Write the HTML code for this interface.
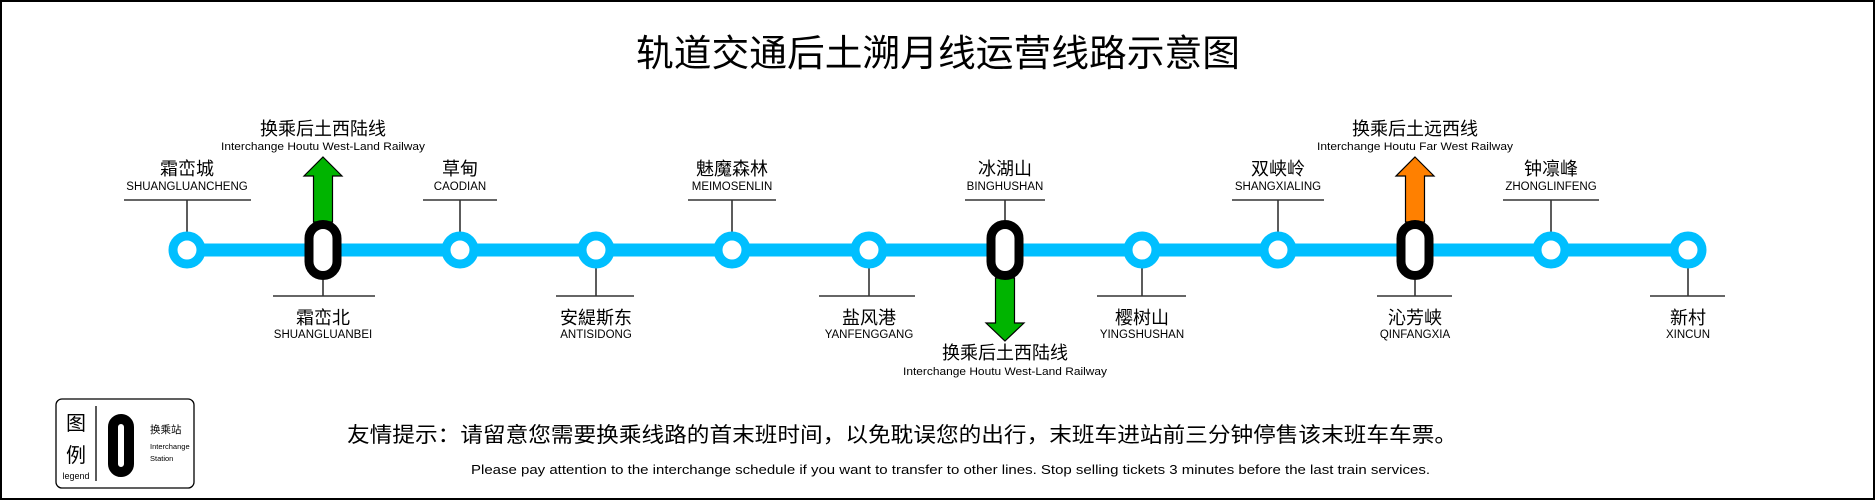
<!DOCTYPE html>
<html><head><meta charset="utf-8"><style>
html,body{margin:0;padding:0;background:#fff;}
svg{display:block;}
text{font-family:"Liberation Sans","Noto Sans CJK SC",sans-serif;fill:#000;}
</style></head><body>
<svg width="1875" height="500" viewBox="0 0 1875 500" xmlns="http://www.w3.org/2000/svg">
<rect x="1" y="1" width="1873" height="498" fill="#fff" stroke="#000" stroke-width="2"/>
<text x="938" y="66" font-size="37" text-anchor="middle" textLength="604" lengthAdjust="spacingAndGlyphs">轨道交通后土溯月线运营线路示意图</text>

<line x1="187" y1="250" x2="1688" y2="250" stroke="#00bfff" stroke-width="13"/>

<g stroke="#333" stroke-width="1.6" fill="none">
<line x1="124" y1="200" x2="251" y2="200"/><line x1="187" y1="200" x2="187" y2="232"/>
<line x1="423" y1="200" x2="497" y2="200"/><line x1="460" y1="200" x2="460" y2="232"/>
<line x1="688" y1="200" x2="776" y2="200"/><line x1="732" y1="200" x2="732" y2="232"/>
<line x1="965" y1="200" x2="1045" y2="200"/><line x1="1005" y1="200" x2="1005" y2="220"/>
<line x1="1232" y1="200" x2="1324" y2="200"/><line x1="1278" y1="200" x2="1278" y2="232"/>
<line x1="1503" y1="200" x2="1599" y2="200"/><line x1="1551" y1="200" x2="1551" y2="232"/>
<line x1="273" y1="296" x2="375" y2="296"/><line x1="323" y1="280" x2="323" y2="296"/>
<line x1="556" y1="296" x2="634" y2="296"/><line x1="596" y1="268" x2="596" y2="296"/>
<line x1="819" y1="296" x2="915" y2="296"/><line x1="869" y1="268" x2="869" y2="296"/>
<line x1="1097" y1="296" x2="1186" y2="296"/><line x1="1142" y1="268" x2="1142" y2="296"/>
<line x1="1377" y1="296" x2="1452" y2="296"/><line x1="1415" y1="280" x2="1415" y2="296"/>
<line x1="1650" y1="296" x2="1725" y2="296"/><line x1="1688" y1="268" x2="1688" y2="296"/>
</g>

<polygon points="323,157 342,176 332.5,176 332.5,222 313.5,222 313.5,176 304,176" fill="#00b400" stroke="#000" stroke-width="1.2"/>
<polygon points="1415,157 1434,176 1424.5,176 1424.5,222 1405.5,222 1405.5,176 1396,176" fill="#ff8000" stroke="#000" stroke-width="1.2"/>
<polygon points="1005,341 1024,323 1014.5,323 1014.5,278 995.5,278 995.5,323 986,323" fill="#00b400" stroke="#000" stroke-width="1.2"/>

<g fill="#fff" stroke="#00bfff" stroke-width="9">
<circle cx="187" cy="250" r="14"/>
<circle cx="460" cy="250" r="14"/>
<circle cx="596" cy="250" r="14"/>
<circle cx="732" cy="250" r="14"/>
<circle cx="869" cy="250" r="14"/>
<circle cx="1142" cy="250" r="14"/>
<circle cx="1278" cy="250" r="14"/>
<circle cx="1551" cy="250" r="14"/>
<circle cx="1688" cy="250" r="14"/>
</g>
<g fill="#fff" stroke="#000" stroke-width="9">
<rect x="309" y="224.5" width="28" height="51" rx="14"/>
<rect x="991" y="224.5" width="28" height="51" rx="14"/>
<rect x="1401" y="224.5" width="28" height="51" rx="14"/>
</g>

<g text-anchor="middle">
<text x="187" y="175" font-size="18">霜峦城</text><text x="187" y="190" font-size="11.5">SHUANGLUANCHENG</text>
<text x="460" y="175" font-size="18">草甸</text><text x="460" y="190" font-size="11.5">CAODIAN</text>
<text x="732" y="175" font-size="18">魅魔森林</text><text x="732" y="190" font-size="11.5">MEIMOSENLIN</text>
<text x="1005" y="175" font-size="18">冰湖山</text><text x="1005" y="190" font-size="11.5">BINGHUSHAN</text>
<text x="1278" y="175" font-size="18">双峡岭</text><text x="1278" y="190" font-size="11.5">SHANGXIALING</text>
<text x="1551" y="175" font-size="18">钟凛峰</text><text x="1551" y="190" font-size="11.5">ZHONGLINFENG</text>
<text x="323" y="324" font-size="18">霜峦北</text><text x="323" y="338" font-size="11.5">SHUANGLUANBEI</text>
<text x="596" y="324" font-size="18">安緹斯东</text><text x="596" y="338" font-size="11.5">ANTISIDONG</text>
<text x="869" y="324" font-size="18">盐风港</text><text x="869" y="338" font-size="11.5">YANFENGGANG</text>
<text x="1142" y="324" font-size="18">樱树山</text><text x="1142" y="338" font-size="11.5">YINGSHUSHAN</text>
<text x="1415" y="324" font-size="18">沁芳峡</text><text x="1415" y="338" font-size="11.5">QINFANGXIA</text>
<text x="1688" y="324" font-size="18">新村</text><text x="1688" y="338" font-size="11.5">XINCUN</text>
<text x="323" y="135" font-size="18">换乘后土西陆线</text><text x="323" y="150" font-size="11" textLength="204" lengthAdjust="spacingAndGlyphs">Interchange Houtu West-Land Railway</text>
<text x="1415" y="135" font-size="18">换乘后土远西线</text><text x="1415" y="150" font-size="11" textLength="196" lengthAdjust="spacingAndGlyphs">Interchange Houtu Far West Railway</text>
<text x="1005" y="359" font-size="18">换乘后土西陆线</text><text x="1005" y="375" font-size="11" textLength="204" lengthAdjust="spacingAndGlyphs">Interchange Houtu West-Land Railway</text>
</g>

<rect x="56" y="399" width="138" height="89" rx="6" fill="#fff" stroke="#000" stroke-width="1.3"/>
<line x1="96" y1="406" x2="96" y2="481" stroke="#000" stroke-width="1.3"/>
<g text-anchor="middle">
<text x="76" y="430" font-size="20">图</text>
<text x="76" y="462" font-size="20">例</text>
<text x="76" y="479" font-size="9">legend</text>
</g>
<rect x="113" y="419" width="16" height="53" rx="8" fill="#fff" stroke="#000" stroke-width="10"/>
<text x="150" y="433" font-size="10.5">换乘站</text>
<text x="150" y="449" font-size="7.5">Interchange</text>
<text x="150" y="461" font-size="7.5">Station</text>

<text x="347" y="442" font-size="21" textLength="1110" lengthAdjust="spacingAndGlyphs">友情提示：请留意您需要换乘线路的首末班时间，以免耽误您的出行，末班车进站前三分钟停售该末班车车票。</text>
<text x="471" y="474" font-size="13" textLength="959" lengthAdjust="spacingAndGlyphs">Please pay attention to the interchange schedule if you want to transfer to other lines. Stop selling tickets 3 minutes before the last train services.</text>
</svg>
</body></html>
